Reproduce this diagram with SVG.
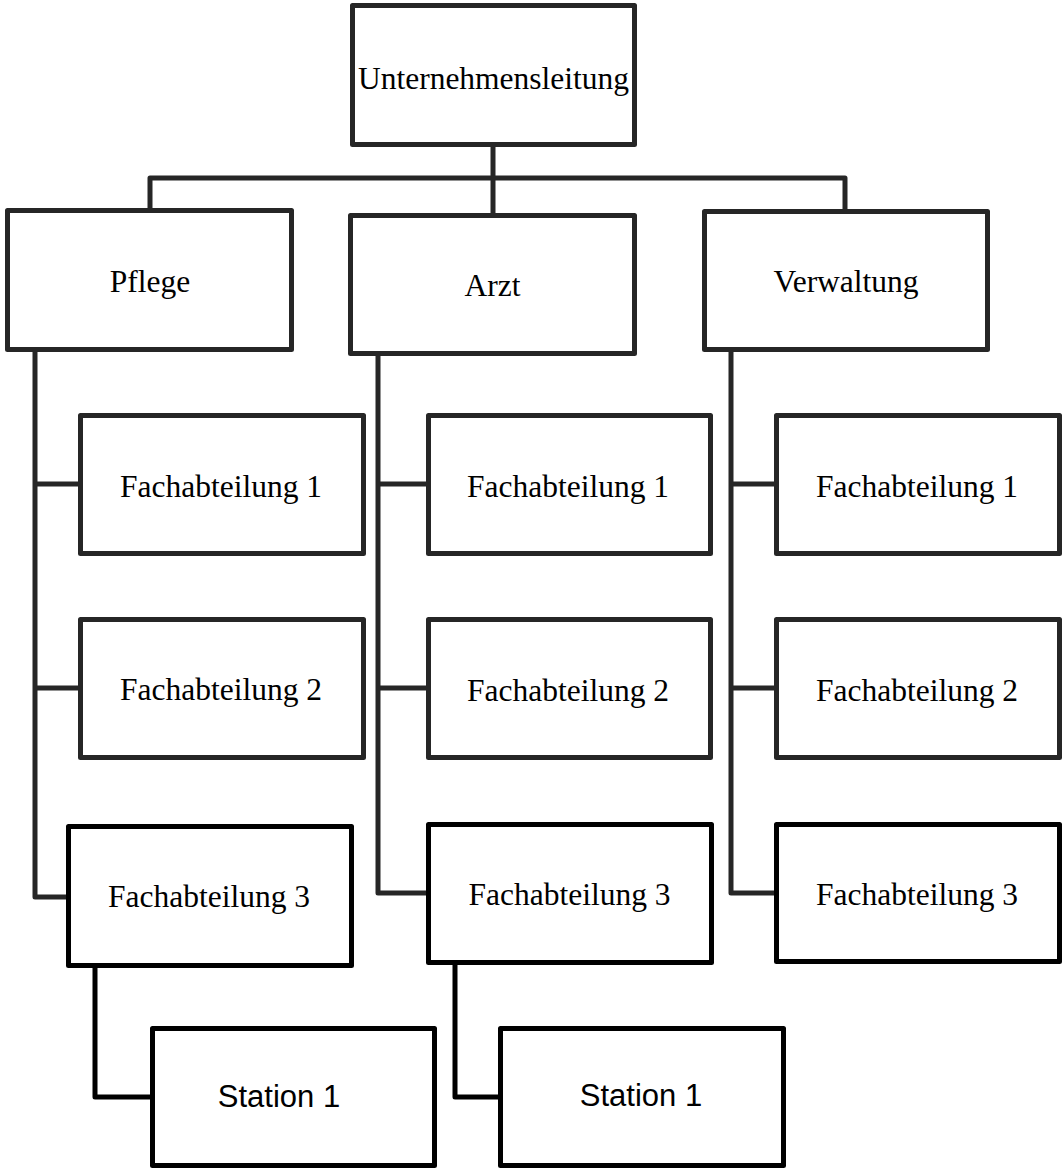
<svg xmlns="http://www.w3.org/2000/svg" width="1063" height="1172" viewBox="0 0 1063 1172">
  <style>
    .box { fill: #fff; stroke: #262626; stroke-width: 5; stroke-linejoin: round; }
    .box.dark { stroke: #000; }
    .lbl { font-family: "Liberation Serif", "Times New Roman", serif; font-size: 31.5px; fill: #000; text-anchor: middle; }
    .lbl.sans { font-family: "Liberation Sans", Arial, sans-serif; font-size: 31px; }
    .wire { fill: none; stroke: #262626; stroke-width: 5; stroke-linejoin: round; }
    .wire.dark { stroke: #000; }
  </style>

  <!-- connectors -->
  <g id="connectors">
    <path class="wire" d="M493,147 V213 M150,208 V178 H845 V209"/>
    <!-- Pflege column -->
    <path class="wire" d="M35,352 V897 H66 M35,484 H78 M35,688 H78"/>
    <!-- Arzt column -->
    <path class="wire" d="M378,356 V893 H426 M378,484 H426 M378,688 H426"/>
    <!-- Verwaltung column -->
    <path class="wire" d="M731,352 V893 H774 M731,484 H774 M731,688 H774"/>
    <!-- stations -->
    <path class="wire dark" d="M95,968 V1097 H150"/>
    <path class="wire dark" d="M455,965 V1097 H498"/>
  </g>

  <g id="unternehmensleitung">
    <rect class="box" x="352.5" y="5.5" width="282" height="139"/>
    <text class="lbl" x="493.5" y="89">Unternehmensleitung</text>
  </g>

  <g id="pflege">
    <rect class="box" x="7.5" y="210.5" width="284" height="139"/>
    <text class="lbl" x="150" y="292">Pflege</text>
  </g>
  <g id="arzt">
    <rect class="box" x="350.5" y="215.5" width="284" height="138"/>
    <text class="lbl" x="492.5" y="296">Arzt</text>
  </g>
  <g id="verwaltung">
    <rect class="box" x="704.5" y="211.5" width="283" height="138"/>
    <text class="lbl" x="846" y="292">Verwaltung</text>
  </g>

  <!-- Pflege departments -->
  <g id="pflege-fach1">
    <rect class="box" x="80.5" y="415.5" width="283" height="138"/>
    <text class="lbl" x="221" y="497">Fachabteilung 1</text>
  </g>
  <g id="pflege-fach2">
    <rect class="box" x="80.5" y="619.5" width="283" height="138"/>
    <text class="lbl" x="221" y="700">Fachabteilung 2</text>
  </g>
  <g id="pflege-fach3">
    <rect class="box dark" x="68.5" y="826.5" width="283" height="139"/>
    <text class="lbl" x="209" y="907">Fachabteilung 3</text>
  </g>
  <g id="pflege-station1">
    <rect class="box dark" x="152.5" y="1028.5" width="282" height="137"/>
    <text class="lbl sans" x="279" y="1107">Station 1</text>
  </g>

  <!-- Arzt departments -->
  <g id="arzt-fach1">
    <rect class="box" x="428.5" y="415.5" width="282" height="138"/>
    <text class="lbl" x="568" y="497">Fachabteilung 1</text>
  </g>
  <g id="arzt-fach2">
    <rect class="box" x="428.5" y="619.5" width="282" height="138"/>
    <text class="lbl" x="568" y="701">Fachabteilung 2</text>
  </g>
  <g id="arzt-fach3">
    <rect class="box dark" x="428.5" y="824.5" width="283" height="138"/>
    <text class="lbl" x="569.5" y="905">Fachabteilung 3</text>
  </g>
  <g id="arzt-station1">
    <rect class="box dark" x="500.5" y="1028.5" width="283" height="137"/>
    <text class="lbl sans" x="641" y="1106">Station 1</text>
  </g>

  <!-- Verwaltung departments -->
  <g id="verwaltung-fach1">
    <rect class="box" x="776.5" y="415.5" width="283" height="138"/>
    <text class="lbl" x="917" y="497">Fachabteilung 1</text>
  </g>
  <g id="verwaltung-fach2">
    <rect class="box" x="776.5" y="619.5" width="283" height="138"/>
    <text class="lbl" x="917" y="701">Fachabteilung 2</text>
  </g>
  <g id="verwaltung-fach3">
    <rect class="box dark" x="776.5" y="824.5" width="283" height="137"/>
    <text class="lbl" x="917" y="905">Fachabteilung 3</text>
  </g>
</svg>
